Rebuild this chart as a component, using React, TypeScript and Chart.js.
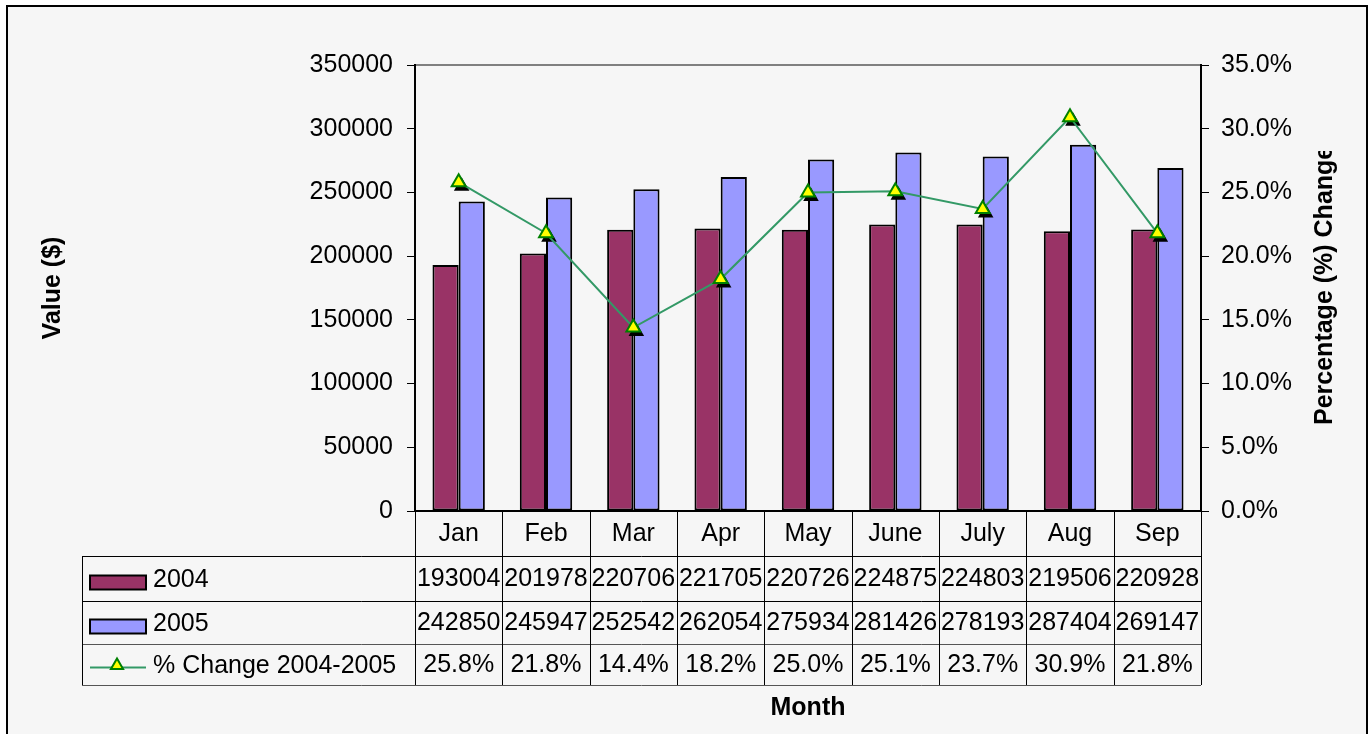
import React, { useEffect, useRef } from 'react';
import { Chart, registerables } from 'chart.js';

Chart.register(...registerables);

const months = ['Jan', 'Feb', 'Mar', 'Apr', 'May', 'June', 'July', 'Aug', 'Sep'];
const values2004 = [193004, 201978, 220706, 221705, 220726, 224875, 224803, 219506, 220928];
const values2005 = [242850, 245947, 252542, 262054, 275934, 281426, 278193, 287404, 269147];
const pctChange = [25.8, 21.8, 14.4, 18.2, 25.0, 25.1, 23.7, 30.9, 21.8];
const valueTicks = [0, 50000, 100000, 150000, 200000, 250000, 300000, 350000];
const pctTicks = [0, 5, 10, 15, 20, 25, 30, 35];

const seriesNames = ['2004', '2005', '% Change 2004-2005'];
const xTitle = 'Month';
const yTitle = 'Value ($)';
const y1Title = 'Percentage (%) Change';

const FONT = '"Liberation Sans", Arial, Helvetica, sans-serif';
const C2004 = '#993366';
const C2005 = '#9999ff';
const CLINE = '#339966';
const CMARK = '#ffff00';
const CMARKB = '#008000';

function tri(ctx: CanvasRenderingContext2D, x: number, y: number, r: number) {
  ctx.beginPath();
  ctx.moveTo(x, y - r);
  ctx.lineTo(x + 0.866 * r, y + 0.5 * r);
  ctx.lineTo(x - 0.866 * r, y + 0.5 * r);
  ctx.closePath();
}

const px = (v: number) => Math.round(v) + 0.5;

const framePlugin = {
  id: 'frame',
  beforeDraw(chart: any) {
    const { ctx, width, height, chartArea } = chart;
    ctx.save();
    ctx.fillStyle = '#ffffff';
    ctx.fillRect(0, 0, width, height);
    ctx.fillStyle = '#f6f6f6';
    ctx.fillRect(7, 6, 1360, height);
    ctx.strokeStyle = '#000';
    ctx.lineWidth = 2;
    ctx.strokeRect(7, 6, 1360, height + 20);
    // plot area top border
    ctx.strokeStyle = '#808080';
    ctx.lineWidth = 2;
    ctx.beginPath();
    ctx.moveTo(chartArea.left, chartArea.top);
    ctx.lineTo(chartArea.right, chartArea.top);
    ctx.stroke();
    ctx.restore();
  },
  beforeDatasetDraw(chart: any, args: any) {
    const ds = chart.data.datasets[args.index];
    if (ds.type !== 'line') return;
    const { ctx } = chart;
    ctx.save();
    ctx.fillStyle = '#000';
    for (const p of args.meta.data) {
      tri(ctx, p.x + 3, p.y + 4, 9);
      ctx.fill();
    }
    ctx.restore();
  },
  afterDraw(chart: any) {
    const { ctx, chartArea } = chart;
    const xs = chart.scales.x;
    const n = months.length;
    const colW = (chartArea.right - chartArea.left) / n;
    const top = chartArea.bottom;
    const rowsY = [top, top + 45, top + 90, top + 133, top + 174];
    const legLeft = 82;
    ctx.save();
    ctx.strokeStyle = '#000';
    ctx.lineWidth = 1;
    // horizontal lines
    for (let r = 1; r < rowsY.length; r++) {
      ctx.strokeStyle = r >= 3 ? '#555' : '#000';
      ctx.beginPath();
      ctx.moveTo(legLeft, px(rowsY[r]));
      ctx.lineTo(chartArea.right, px(rowsY[r]));
      ctx.stroke();
    }
    // vertical lines
    ctx.strokeStyle = '#000';
    for (let i = 0; i <= n; i++) {
      const x = px(chartArea.left + i * colW);
      ctx.beginPath();
      ctx.moveTo(x, rowsY[0]);
      ctx.lineTo(x, rowsY[4]);
      ctx.stroke();
    }
    ctx.beginPath();
    ctx.moveTo(px(legLeft), rowsY[1]);
    ctx.lineTo(px(legLeft), rowsY[4]);
    ctx.stroke();

    // text
    ctx.fillStyle = '#000';
    ctx.font = `25px ${FONT}`;
    ctx.textAlign = 'center';
    ctx.textBaseline = 'middle';
    const rowData: string[][] = [
      months,
      values2004.map((v) => String(v)),
      values2005.map((v) => String(v)),
      pctChange.map((v) => v.toFixed(1) + '%'),
    ];
    for (let r = 0; r < 4; r++) {
      const cy = (rowsY[r] + rowsY[r + 1]) / 2 + 1;
      for (let i = 0; i < n; i++) {
        const cx = xs.getPixelForValue(i);
        ctx.fillText(rowData[r][i], cx, cy);
      }
    }
    // legend column
    ctx.textAlign = 'left';
    const swL = 90, swR = 146;
    for (let s = 0; s < 3; s++) {
      const cy = (rowsY[s + 1] + rowsY[s + 2]) / 2;
      if (s < 2) {
        ctx.fillStyle = s === 0 ? C2004 : C2005;
        ctx.fillRect(swL, cy + 4 - 7, swR - swL, 14);
        ctx.strokeStyle = '#000';
        ctx.lineWidth = 2;
        ctx.strokeRect(swL, cy + 4 - 7, swR - swL, 14);
      } else {
        ctx.strokeStyle = CLINE;
        ctx.lineWidth = 2;
        ctx.beginPath();
        ctx.moveTo(swL, cy + 3);
        ctx.lineTo(swR, cy + 3);
        ctx.stroke();
        tri(ctx, 117, cy + 1, 7);
        ctx.fillStyle = CMARK;
        ctx.fill();
        ctx.strokeStyle = CMARKB;
        ctx.lineWidth = 2;
        ctx.stroke();
      }
      ctx.fillStyle = '#000';
      ctx.fillText(seriesNames[s], 153, cy + 2);
    }

    // right axis title, rotated bottom-to-top, clipped at top
    ctx.save();
    ctx.beginPath();
    ctx.rect(0, 151, chart.width, chart.height);
    ctx.clip();
    ctx.translate(1325, 425);
    ctx.rotate(-Math.PI / 2);
    ctx.font = `bold 25px ${FONT}`;
    ctx.textAlign = 'left';
    ctx.textBaseline = 'middle';
    ctx.fillStyle = '#000';
    ctx.fillText(y1Title, 0, 0);
    ctx.restore();

    ctx.restore();
  },
};

export default function App() {
  const ref = useRef<HTMLCanvasElement>(null);
  useEffect(() => {
    const canvas = ref.current;
    if (!canvas) return;
    Chart.defaults.font.family = FONT;
    Chart.defaults.font.size = 25;
    Chart.defaults.color = '#000';
    const chart = new Chart(canvas, {
      type: 'bar',
      data: {
        labels: months,
        datasets: [
          {
            type: 'line',
            label: seriesNames[2],
            data: pctChange,
            yAxisID: 'y1',
            borderColor: CLINE,
            borderWidth: 2,
            pointStyle: 'triangle',
            pointRadius: 8,
            pointBackgroundColor: CMARK,
            pointBorderColor: CMARKB,
            pointBorderWidth: 2,
            tension: 0,
            order: 0,
          } as any,
          {
            type: 'bar',
            label: seriesNames[0],
            data: values2004,
            yAxisID: 'y',
            backgroundColor: C2004,
            borderColor: '#000',
            borderWidth: 2,
            borderSkipped: false,
            categoryPercentage: 0.6,
            barPercentage: 1.0,
            order: 1,
          },
          {
            type: 'bar',
            label: seriesNames[1],
            data: values2005,
            yAxisID: 'y',
            backgroundColor: C2005,
            borderColor: '#000',
            borderWidth: 2,
            borderSkipped: false,
            categoryPercentage: 0.6,
            barPercentage: 1.0,
            order: 2,
          },
        ],
      },
      options: {
        responsive: false,
        animation: false,
        devicePixelRatio: 1,
        layout: { padding: { top: 65, left: 0, right: 0, bottom: 0 } },
        plugins: {
          legend: { display: false },
          tooltip: { enabled: false },
        },
        scales: {
          x: {
            type: 'category',
            display: true,
            ticks: { display: false },
            grid: { display: true, drawOnChartArea: false, drawTicks: false, color: '#000' },
            border: { display: true, color: '#000', width: 2 },
            title: {
              display: true,
              text: xTitle,
              color: '#000',
              font: { family: FONT, size: 25, weight: 'bold' },
              padding: { top: 0, bottom: 11 },
            },
            afterFit: (s: any) => {
              s.height = 223;
            },
          },
          y: {
            type: 'linear',
            position: 'left',
            min: 0,
            max: 350000,
            afterBuildTicks: (s: any) => {
              s.ticks = valueTicks.map((v) => ({ value: v }));
            },
            ticks: {
              color: '#000',
              padding: 14,
              font: { family: FONT, size: 25 },
              callback: (v: any) => String(v),
            },
            grid: { drawOnChartArea: false, drawTicks: true, tickLength: 8, color: '#000', tickWidth: 1 },
            border: { display: true, color: '#000', width: 2 },
            title: {
              display: true,
              text: yTitle,
              color: '#000',
              font: { family: FONT, size: 25, weight: 'bold' },
              padding: { top: 38, bottom: 0 },
            },
            afterFit: (s: any) => {
              s.width = 415;
            },
          },
          y1: {
            type: 'linear',
            position: 'right',
            min: 0,
            max: 35,
            afterBuildTicks: (s: any) => {
              s.ticks = pctTicks.map((v) => ({ value: v }));
            },
            ticks: {
              color: '#000',
              padding: 12,
              font: { family: FONT, size: 25 },
              callback: (v: any) => Number(v).toFixed(1) + '%',
            },
            grid: { drawOnChartArea: false, drawTicks: true, tickLength: 8, color: '#000', tickWidth: 1 },
            border: { display: true, color: '#000', width: 2 },
            afterFit: (s: any) => {
              s.width = 168;
            },
          },
        },
      } as any,
      plugins: [framePlugin],
    });
    return () => chart.destroy();
  }, []);
  return (
    <div style={{ position: 'fixed', left: 0, top: 0, width: 1369, height: 734 }}>
      <canvas ref={ref} width={1369} height={734} style={{ display: 'block', width: 1369, height: 734 }} />
    </div>
  );
}
